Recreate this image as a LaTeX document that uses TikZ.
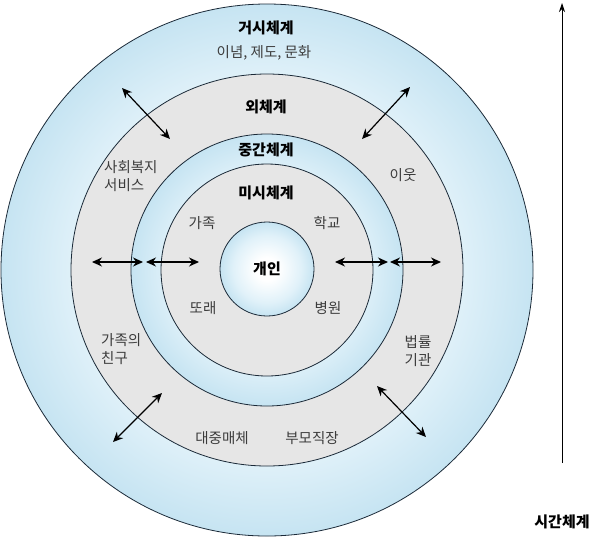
\documentclass[tikz,border=0pt]{standalone}
\usepackage{fontspec}
\setmainfont{Noto Sans CJK KR}
\usetikzlibrary{arrows.meta}
\definecolor{ringedge}{HTML}{C6E4F2}
\definecolor{ringmid}{HTML}{E0F1F9}
\definecolor{exogray}{HTML}{E6E6E6}
\definecolor{rimline}{HTML}{1B2A38}
\definecolor{labelgray}{HTML}{3C3C3C}
\pgfdeclareradialshading{ringshade}{\pgfpoint{0bp}{0bp}}{color(0bp)=(white); color(6bp)=(white); color(18bp)=(ringmid); color(25bp)=(ringedge); color(50bp)=(ringedge)}

\begin{document}
\begin{tikzpicture}[x=1pt,y=-1pt,
  ring/.style={circle,draw=rimline,line width=0.8pt,inner sep=0pt},
  head/.style={font=\fontsize{15}{17}\selectfont\bfseries},
  lbl/.style={font=\fontsize{14.5}{18}\selectfont,text=labelgray,inner sep=0pt,align=left},
  link/.style={<->,line width=1.2pt,>={Stealth[length=10pt,width=9pt]}}]
\useasboundingbox (0,0) rectangle (589,542);
\node[ring,shading=ringshade,minimum size=532pt] (macro) at (267,270) {};
\node[ring,fill=exogray,minimum size=392pt] (exo) at (267,270) {};
\node[ring,shading=ringshade,minimum size=272pt] (meso) at (267,270) {};
\node[ring,fill=exogray,minimum size=212pt] (micro) at (267,270) {};
\node[ring,shading=ringshade,minimum size=94pt,head] (self) at (267,269) {개인};
\node[head] (macrot) at (266,28) {거시체계};
\node[lbl] (macrol) at (264,53) {이념, 제도, 문화};
\node[head] (exot) at (266,107) {외체계};
\node[head] (mesot) at (266,150) {중간체계};
\node[head] (microt) at (266,193) {미시체계};
\node[lbl] (family) at (202,223) {가족};
\node[lbl] (school) at (327,223) {학교};
\node[lbl] (peer) at (203,308) {또래};
\node[lbl] (hospital) at (328,308) {병원};
\node[lbl,anchor=west] (welfare) at (104,176) {사회복지\\서비스};
\node[lbl] (neighbor) at (403,175) {이웃};
\node[lbl,anchor=west] (friends) at (101,349) {가족의\\친구};
\node[lbl,align=center] (legal) at (418,351) {법률\\기관};
\node[lbl] (media) at (222,438) {대중매체};
\node[lbl] (work) at (312,438) {부모직장};
\node[head] (timet) at (562,522) {시간체계};
\coordinate (a1) at (92,262); \coordinate (a2) at (143,262);
\coordinate (a3) at (146,262); \coordinate (a4) at (199,262);
\coordinate (a5) at (335,262); \coordinate (a6) at (388,262);
\coordinate (a7) at (390,262); \coordinate (a8) at (441,262);
\coordinate (d1) at (122,88); \coordinate (d2) at (170,139);
\coordinate (d3) at (410,87); \coordinate (d4) at (362,139);
\coordinate (d5) at (377,386); \coordinate (d6) at (426,437);
\coordinate (d7) at (162,393); \coordinate (d8) at (113,442);
\coordinate (t0) at (562,463); \coordinate (t1) at (562,3);
\draw[link] (a1) -- (a2); \draw[link] (a3) -- (a4);
\draw[link] (a5) -- (a6); \draw[link] (a7) -- (a8);
\draw[link] (d1) -- (d2); \draw[link] (d3) -- (d4);
\draw[link] (d5) -- (d6); \draw[link] (d7) -- (d8);
\draw[-{Stealth[length=9pt,width=6pt]},line width=0.9pt] (t0) -- (t1);
\end{tikzpicture}
\end{document}
